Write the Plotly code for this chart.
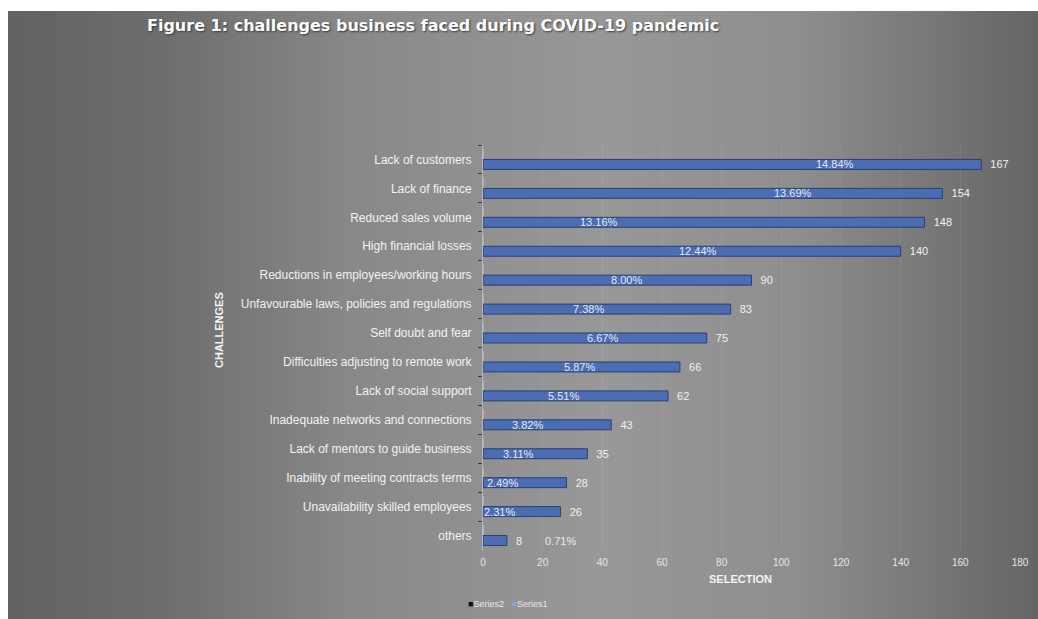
import plotly.graph_objects as go

# Survey results: number of selections per challenge (Series1)
challenges = [
    "Lack of customers",
    "Lack of finance",
    "Reduced sales volume",
    "High financial losses",
    "Reductions in employees/working hours",
    "Unfavourable laws, policies and regulations",
    "Self doubt and fear",
    "Difficulties adjusting to remote work",
    "Lack of social support",
    "Inadequate networks and connections",
    "Lack of mentors to guide business",
    "Inability of meeting contracts terms",
    "Unavailability skilled employees",
    "others",
]
selections = [167, 154, 148, 140, 90, 83, 75, 66, 62, 43, 35, 28, 26, 8]

# Share of all selections (Series2)
shares = [0.1484, 0.1369, 0.1316, 0.1244, 0.0800, 0.0738, 0.0667,
          0.0587, 0.0551, 0.0382, 0.0311, 0.0249, 0.0231, 0.0071]

# Horizontal placement of the percentage labels (axis units)
pct_label_x = [118, 104, 39, 72, 48, 35.5, 40, 32.5, 27, 15, 12, 6.7, 5.5, 26]

x_ticks = [0, 20, 40, 60, 80, 100, 120, 140, 160, 180]

W, H = 1038, 619
L, R, T, B = 483, 18, 145, 69
PW = W - L - R
PH = H - T - B

FONT = "Liberation Sans, Arial, sans-serif"


def px_to_paper_x(px):
    return (px - L) / PW


def px_to_paper_y(py):
    return (H - B - py) / PH


fig = go.Figure()

fig.add_trace(go.Bar(
    name="Series2",
    y=challenges,
    x=shares,
    orientation="h",
    marker=dict(color="#111111"),
    hoverinfo="skip",
))

fig.add_trace(go.Bar(
    name="Series1",
    y=challenges,
    x=selections,
    orientation="h",
    marker=dict(color="#4b6db3", line=dict(color="#2c3f6e", width=1)),
    text=selections,
    texttemplate="\u00a0\u00a0%{x}",
    textposition="outside",
    constraintext="none",
    textfont=dict(family=FONT, size=11, color="#f2f2f2"),
    cliponaxis=False,
))

# Percentage labels sitting on the Series1 bars
annotations = []
for cat, share, xpos in zip(challenges, shares, pct_label_x):
    annotations.append(dict(
        x=xpos, y=cat, xref="x", yref="y",
        text=f"{share * 100:.2f}%",
        showarrow=False, yshift=-5,
        font=dict(family=FONT, size=11, color="#e4eaf7"),
    ))

# Chart title with a soft drop shadow
annotations.append(dict(
    x=px_to_paper_x(145), y=px_to_paper_y(25), xref="paper", yref="paper",
    xanchor="left", yanchor="middle",
    text="<b>Figure 1: challenges business faced during COVID-19 pandemic</b>",
    showarrow=False,
    font=dict(family="DejaVu Sans, Verdana, sans-serif", size=16, color="#ffffff",
              shadow="1px 1px 2px #3a3a3a"),
))

# Axis titles
annotations.append(dict(
    x=px_to_paper_x(740), y=px_to_paper_y(579), xref="paper", yref="paper",
    xanchor="center", yanchor="middle",
    text="<b>SELECTION</b>", showarrow=False,
    font=dict(family=FONT, size=11, color="#f4f4f4"),
))
annotations.append(dict(
    x=px_to_paper_x(219), y=px_to_paper_y(330), xref="paper", yref="paper",
    xanchor="center", yanchor="middle",
    text="<b>CHALLENGES</b>", showarrow=False, textangle=-90,
    font=dict(family=FONT, size=11, color="#f4f4f4"),
))

# Compact legend line under the axis
annotations.append(dict(
    x=px_to_paper_x(466), y=px_to_paper_y(604), xref="paper", yref="paper",
    xanchor="left", yanchor="middle", showarrow=False,
    text=('<span style="color:#111111">\u25a0</span>Series2\u00a0\u00a0\u00a0'
          '<span style="color:#8e9ed8">\u25a0</span>Series1'),
    font=dict(family=FONT, size=9, color="#e8e8e8"),
))

# Grey backdrop with a horizontal light-to-dark gradient
stops = [(8, 0x62), (160, 0x6d), (350, 0x88), (600, 0x98), (800, 0x8e), (950, 0x74), (1038, 0x65)]


def grey_at(px):
    for (x0, g0), (x1, g1) in zip(stops[:-1], stops[1:]):
        if x0 <= px <= x1:
            t = (px - x0) / (x1 - x0)
            return round(g0 + t * (g1 - g0))
    return stops[-1][1]


shapes = []
step = 6
px = 8
while px < W:
    g = grey_at(px + step / 2)
    shapes.append(dict(
        type="rect", xref="paper", yref="paper", layer="below",
        x0=px_to_paper_x(px), x1=px_to_paper_x(min(px + step, W) + 0.5),
        y0=px_to_paper_y(H), y1=px_to_paper_y(11),
        line=dict(width=0), fillcolor=f"rgb({g},{g},{g})",
    ))
    px += step

fig.update_layout(
    width=W, height=H,
    margin=dict(l=L, r=R, t=T, b=B, pad=0),
    paper_bgcolor="#ffffff",
    plot_bgcolor="rgba(0,0,0,0)",
    barmode="group",
    bargap=0.31,
    bargroupgap=0,
    showlegend=False,
    shapes=shapes,
    annotations=annotations,
    font=dict(family=FONT),
)

fig.update_xaxes(
    range=[0, 180],
    tickvals=x_ticks,
    ticktext=[str(v) for v in x_ticks],
    tickfont=dict(size=10, color="#e6e6e6"),
    ticklabelstandoff=5,
    showgrid=True,
    gridcolor="rgba(255,255,255,0.07)",
    zeroline=False,
    showline=False,
    ticks="",
    automargin=False,
)

fig.update_yaxes(
    autorange="reversed",
    tickfont=dict(size=12, color="#f2f2f2"),
    showline=True,
    linecolor="#b8b8b8",
    linewidth=1,
    ticks="outside",
    tickson="boundaries",
    ticklen=4,
    tickcolor="#3a3a3a",
    ticklabelstandoff=8,
    showgrid=False,
    automargin=False,
)

fig.write_html("out.html")
